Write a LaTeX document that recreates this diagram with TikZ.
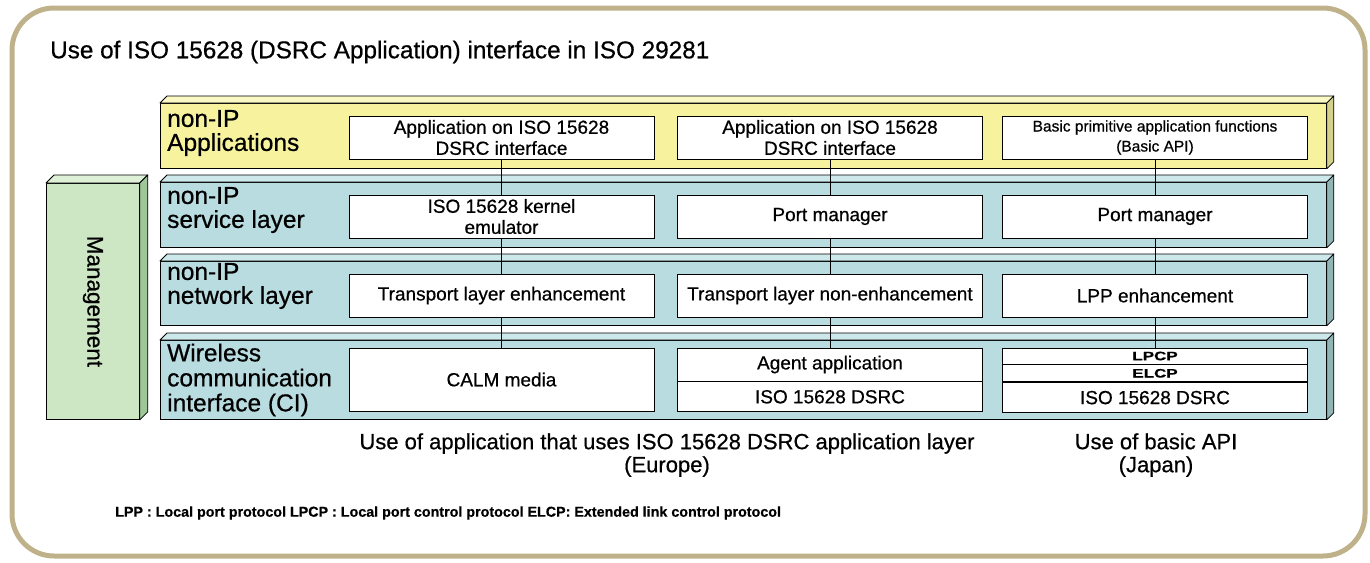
\documentclass[tikz,border=0pt]{standalone}
\usepackage{fontspec}
\setmainfont{Liberation Sans}[FakeBold=0.6]
\usetikzlibrary{positioning, calc}
\definecolor{FrameTan}{RGB}{191,178,138}
\definecolor{AppYellow}{RGB}{246,242,158}
\definecolor{AppYellowTop}{RGB}{250,248,196}
\definecolor{AppYellowSide}{RGB}{212,210,138}
\definecolor{LayerBlue}{RGB}{184,220,224}
\definecolor{LayerBlueTop}{RGB}{204,232,235}
\definecolor{LayerBlueSide}{RGB}{146,180,180}
\definecolor{MgmtGreen}{RGB}{205,230,195}
\definecolor{MgmtGreenTop}{RGB}{222,240,214}
\definecolor{MgmtGreenSide}{RGB}{158,198,152}

\tikzset{
  slab/.style={draw, line width=0.8pt, minimum width=1166, minimum height=#1, inner sep=0, anchor=north west},
  laylabel/.style={anchor=west, align=left, inner sep=0, font=\fontsize{24.5}{24}\selectfont},
  unit/.style={draw, fill=white, line width=0.8pt, minimum width=305, minimum height=43, inner sep=0, align=center, font=\fontsize{19}{21}\selectfont},
  link/.style={line width=0.8pt}
}

% top and right faces of a slab node: node, top colour, side colour, depth
\newcommand{\slabfaces}[4]{%
  \filldraw[fill=#2, line width=0.8pt, line join=round] (#1.north west) -- ++(#4,-#4) -- ($(#1.north east)+(#4,-#4)$) -- (#1.north east) -- cycle;
  \filldraw[fill=#3, line width=0.8pt, line join=round] (#1.north east) -- ++(#4,-#4) -- ($(#1.south east)+(#4,-#4)$) -- (#1.south east) -- cycle;
}

\begin{document}
\begin{tikzpicture}[x=1pt, y=-1pt]
  \useasboundingbox (0,0) rectangle (1370,562);

  % Frame
  \draw[FrameTan, line width=5pt, rounded corners=42pt] (12,8) rectangle (1365,556);

  % Title
  \node[anchor=west, inner sep=0, font=\fontsize{24.3}{24}\selectfont] (title) at (50,52) {Use of ISO 15628 (DSRC Application) interface in ISO 29281};

  % Layers
  \node[slab=65, fill=AppYellow] (apps) at (160,103) {};
  \slabfaces{apps}{AppYellowTop}{AppYellowSide}{7}
  \node[slab=65, fill=LayerBlue] (svc) at (160,182) {};
  \slabfaces{svc}{LayerBlueTop}{LayerBlueSide}{7}
  \node[slab=64, fill=LayerBlue] (net) at (160,261) {};
  \slabfaces{net}{LayerBlueTop}{LayerBlueSide}{7}
  \node[slab=79, fill=LayerBlue] (wcl) at (160,340) {};
  \slabfaces{wcl}{LayerBlueTop}{LayerBlueSide}{7}

  % Management
  \node[draw, line width=0.8pt, fill=MgmtGreen, minimum width=93, minimum height=236, inner sep=0, anchor=north west] (mgmt) at (46,183) {};
  \slabfaces{mgmt}{MgmtGreenTop}{MgmtGreenSide}{8}
  \node[rotate=-90, inner sep=0, font=\fontsize{22.5}{22}\selectfont] (mgmtlabel) at (mgmt.center) {Management};

  % Layer labels
  \node[laylabel] (appslabel) at (167,133) {non-IP\\Applications};
  \node[laylabel] (svclabel) at (167,210) {non-IP\\service layer};
  \node[laylabel] (netlabel) at (167,286) {non-IP\\network layer};
  \node[laylabel, font=\fontsize{24.5}{25}\selectfont] (wcllabel) at (167,380) {Wireless\\communication\\interface (CI)};

  % Application row
  \node[unit] (app1) at (501.5,137.5) {Application on ISO 15628\\DSRC interface};
  \node[unit] (app2) at (830,137.5) {Application on ISO 15628\\DSRC interface};
  \node[unit, font=\fontsize{15.5}{20}\selectfont] (app3) at (1155,137.5) {Basic primitive application functions\\(Basic API)};

  % Service row
  \node[unit] (svc1) at (501.5,216.5) {ISO 15628 kernel\\emulator};
  \node[unit] (svc2) at (830,216.5) {Port manager};
  \node[unit] (svc3) at (1155,216.5) {Port manager};

  % Network row
  \node[unit] (net1) at (501.5,295.5) {Transport layer enhancement};
  \node[unit] (net2) at (830,295.5) {Transport layer non-enhancement};
  \node[unit] (net3) at (1155,295.5) {LPP enhancement};

  % Wireless row
  \node[unit, minimum height=63] (calm) at (501.5,379.5) {CALM media};
  \node[unit, minimum height=33] (agent) at (830,364.5) {Agent application};
  \node[unit, minimum height=30, below=0pt of agent] (dsrc2) {ISO 15628 DSRC};
  \node[unit, minimum height=16, font=\bfseries\fontsize{17}{17}\selectfont] (lpcp) at (1155,356) {\scalebox{1}[0.72]{LPCP}};
  \node[unit, minimum height=17, font=\bfseries\fontsize{17}{17}\selectfont, below=0pt of lpcp] (elcp) {\scalebox{1}[0.72]{ELCP}};
  \node[unit, minimum height=30, below=0pt of elcp] (dsrc3) {ISO 15628 DSRC};

  % Links
  \draw[link] (app1) -- (svc1);
  \draw[link] (svc1) -- (net1);
  \draw[link] (net1) -- (calm);
  \draw[link] (app2) -- (svc2);
  \draw[link] (svc2) -- (net2);
  \draw[link] (net2) -- (agent);
  \draw[link] (app3) -- (svc3);
  \draw[link] (svc3) -- (net3);
  \draw[link] (net3) -- (lpcp);

  % Captions
  \node[align=center, inner sep=0, font=\fontsize{22}{23}\selectfont] (europe) at (667,455) {Use of application that uses ISO 15628 DSRC application layer\\(Europe)};
  \node[align=center, inner sep=0, font=\fontsize{22}{23}\selectfont] (japan) at (1156,455) {Use of basic API\\(Japan)};
  \node[anchor=west, inner sep=0, font=\bfseries\fontsize{14.3}{14}\selectfont] (abbrev) at (115,513) {LPP : Local port protocol LPCP : Local port control protocol ELCP: Extended link control protocol};
\end{tikzpicture}
\end{document}
